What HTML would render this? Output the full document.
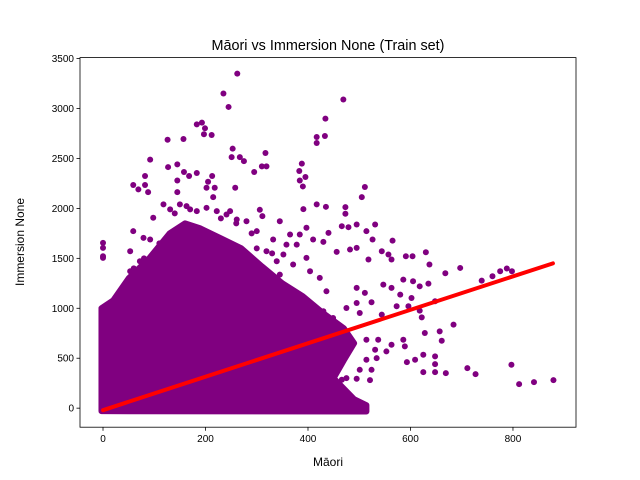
<!DOCTYPE html>
<html><head><meta charset="utf-8"><style>
body{margin:0;background:#fff}
svg{display:block;font-family:"Liberation Sans","DejaVu Sans",sans-serif}
</style></head><body>
<svg id="chart" width="640" height="480" viewBox="0 0 640 480">
<rect width="640" height="480" fill="#fff"/>
<g id="marks"></g>
<rect x="80" y="57.6" width="496" height="369.6" fill="none" stroke="#000" stroke-width="0.8"/>
<g id="axes"></g>
<text x="328" y="50" text-anchor="middle" font-size="14.4">Māori vs Immersion None (Train set)</text>
<text x="328" y="466" text-anchor="middle" font-size="12">Māori</text>
<text x="24" y="242" text-anchor="middle" font-size="12" transform="rotate(-90 24 242)">Immersion None</text>
</svg>
<script>
const xTicks=[0,200,400,600,800];
const yTicks=[0,500,1000,1500,2000,2500,3000,3500];
const coreX=[-3,-3,20,50,90,130,160,190,230,270,310,350,390,430,470,490,470,450,490,514,514];
const coreY=[-30,1000,1080,1300,1500,1750,1850,1800,1700,1600,1420,1250,1120,950,800,650,480,300,90,30,-33];
const ptX=[262,235,245,469,434,183,193,199,197,212,126,157,417,433,417,253,251,267,275,317,310,319,295,92,127,145,388,383,395,384,390,511,505,82,59,82,69,88,145,145,158,183,168,205,213,202,218,215,258,306,311,345,391,417,435,473,473,466,495,531,514,440,479,526,565,410,430,456,482,495,518,544,557,563,591,604,630,637,668,697,739,760,775,788,798,547,563,586,605,618,635,580,602,596,495,511,495,524,475,501,544,573,618,622,648,684,628,657,661,586,589,563,553,531,514,537,625,609,593,648,648,625,648,669,711,727,797,812,841,879,475,495,521,466,501,524,514,534,449,456,440,423,410,423,436,453,384,404,410,436,449,430,404,384,365,345,371,397,404,423,436,352,339,358,378,384,397,365,332,319,300,280,261,241,332,345,358,371,332,313,300,397,384,53,59,79,92,98,118,131,150,163,183,202,222,248,111,72,53,33,10,17,0,0,0,0,69,140,170,230,260,290,110,80,60,300,330];
const ptY=[3350,3150,3016,3090,2899,2842,2859,2802,2742,2735,2688,2695,2715,2725,2655,2598,2514,2514,2474,2555,2421,2421,2364,2488,2414,2441,2448,2374,2314,2280,2220,2214,2113,2324,2234,2234,2190,2163,2280,2163,2364,2354,2324,2267,2324,2207,2207,2113,2207,1986,1923,1872,1993,2040,2016,2013,1946,1822,1839,1839,1772,1755,1812,1689,1678,1689,1665,1565,1588,1605,1488,1571,1538,1488,1521,1521,1561,1438,1351,1404,1277,1321,1371,1398,1371,1237,1204,1287,1271,1220,1247,1137,1103,1020,1204,1154,1053,1060,1003,953,936,1020,976,909,1070,836,752,769,675,685,619,635,568,585,685,685,535,485,461,518,441,361,361,351,401,341,435,241,261,281,301,294,281,284,384,384,485,501,501,552,401,368,351,267,167,134,735,669,786,836,903,970,1037,1020,1170,1337,1438,1505,1371,1304,1170,1538,1471,1638,1638,1739,1806,1739,1689,1571,1772,1872,1889,1939,501,401,301,167,234,167,134,234,167,1571,1772,1705,1689,1906,2040,1990,2040,2023,1973,2006,1973,1973,1504,1471,1371,1170,1037,936,1655,1605,1521,1505,-27,1950,1990,1900,1850,1750,1650,1500,1400,1600,1550];
const lineX=[0,878];
const lineY=[-20,1450];
const X0=-44.9,X1=923,Y0=-190.6,Y1=3510;
const L=80,R=576,T=57.6,B=427.2;
function sx(v){return L+(v-X0)/(X1-X0)*(R-L);}
function sy(v){return B-(v-Y0)/(Y1-Y0)*(B-T);}
const NS="http://www.w3.org/2000/svg";
const marks=document.getElementById('marks');
const axes=document.getElementById('axes');
function mk(t,a,p){const e=document.createElementNS(NS,t);for(const k in a)e.setAttribute(k,a[k]);p.appendChild(e);return e;}
let pts=coreX.map((x,i)=>sx(x)+','+sy(coreY[i])).join(' ');
const core=mk('polygon',{points:pts,fill:'#800080',stroke:'#800080','stroke-width':6,'stroke-linejoin':'round'},marks);


ptX.forEach((x,i)=>{
  const c=mk('circle',{cx:sx(x),cy:sy(ptY[i]),r:3,fill:'#800080'},marks);
  
  
});
const ln=mk('line',{x1:sx(lineX[0]),y1:sy(lineY[0]),x2:sx(lineX[1]),y2:sy(lineY[1]),stroke:'#ff0000','stroke-width':4,'stroke-linecap':'round'},marks);


xTicks.forEach(v=>{
  const t=mk('line',{x1:sx(v),x2:sx(v),y1:B,y2:B+3.5,stroke:'#000','stroke-width':0.8},axes);
  
  
  const l=mk('text',{x:sx(v),y:B+15,'text-anchor':'middle','font-size':10},axes);
  l.textContent=v;
  
  
});
yTicks.forEach(v=>{
  const t=mk('line',{x1:L-3.5,x2:L,y1:sy(v),y2:sy(v),stroke:'#000','stroke-width':0.8},axes);
  
  
  const l=mk('text',{x:L-6,y:sy(v)+3.5,'text-anchor':'end','font-size':10},axes);
  l.textContent=v;
  
  
});
</script>
</body></html>
